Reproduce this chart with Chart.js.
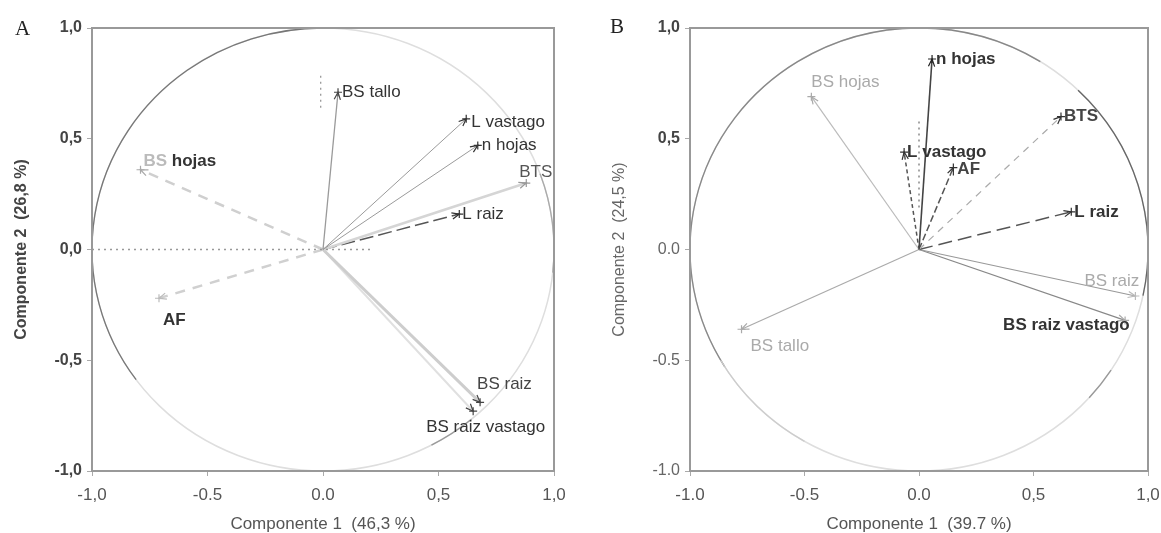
<!DOCTYPE html>
<html>
<head>
<meta charset="utf-8">
<script src="https://cdn.jsdelivr.net/npm/chart.js@4.4.1/dist/chart.umd.min.js"></script>
<style>
    body { margin: 0; background: #fff; width: 1161px; height: 533px; overflow: hidden; position: relative; }
    canvas { position: absolute; top: 0; }
    #chartA { left: 0; }
    #chartB { left: 580px; }
    .panel { position: absolute; font-family: "Liberation Serif", serif; font-size: 21px; color: #222; }
</style>
</head>
<body>
<canvas id="chartA" width="580" height="533"></canvas>
<canvas id="chartB" width="581" height="533"></canvas>
<div class="panel" style="left:15px; top:16px;">A</div>
<div class="panel" style="left:610px; top:14px;">B</div>
<script>
// ticks
const tickValues = [-1, -0.5, 0, 0.5, 1];
const xTickLabelsA = ['-1,0', '-0.5', '0.0', '0,5', '1,0'];
const yTickLabelsA = ['-1,0', '-0,5', '0,0', '0,5', '1,0'];
const xTickLabelsB = ['-1.0', '-0.5', '0.0', '0,5', '1,0'];
const yTickLabelsB = ['-1.0', '-0.5', '0.0', '0,5', '1,0'];

// panel A loadings
const variablesA = ['BS tallo', 'L vastago', 'n hojas', 'BTS', 'L raiz', 'BS hojas', 'AF', 'BS raiz', 'BS raiz vastago'];
const comp1A = [0.065, 0.62, 0.67, 0.88, 0.59, -0.79, -0.71, 0.68, 0.65];
const comp2A = [0.71, 0.59, 0.47, 0.30, 0.16, 0.36, -0.22, -0.69, -0.73];

// panel B loadings
const variablesB = ['n hojas', 'BS hojas', 'BTS', 'L vastago', 'AF', 'L raiz', 'BS tallo', 'BS raiz', 'BS raiz vastago'];
const comp1B = [0.057, -0.47, 0.62, -0.065, 0.15, 0.665, -0.775, 0.945, 0.90];
const comp2B = [0.86, 0.69, 0.60, 0.44, 0.37, 0.17, -0.36, -0.21, -0.32];

// dotted guide segments
const guidesA = [
    [{x: -1, y: 0}, {x: 0.22, y: 0}],
    [{x: -0.01, y: 0.64}, {x: -0.01, y: 0.79}]
];
const guidesB = [
    [{x: 0.0, y: 0.19}, {x: 0.0, y: 0.58}]
];

Chart.defaults.font.family = '"Liberation Sans", Arial, sans-serif';

const styleA = [
    {line: '#9a9a9a', width: 1.3, dash: [], mark: '#444', dx: 4, dy: 0, color: '#333', bold: false},
    {line: '#9a9a9a', width: 1, dash: [], mark: '#333', dx: 5, dy: 3, color: '#333', bold: false},
    {line: '#9a9a9a', width: 1, dash: [], mark: '#333', dx: 4, dy: 0, color: '#333', bold: false},
    {line: '#d5d5d5', width: 2.5, dash: [], mark: '#999', dx: -7, dy: -11, color: '#555', bold: false},
    {line: '#555', width: 1.5, dash: [14, 5], mark: '#333', dx: 3, dy: 0, color: '#333', bold: false},
    {line: '#cfcfcf', width: 2.5, dash: [10, 8], mark: '#aaa', dx: 3, dy: -8, color: '#333', bold: true, dim: 'BS '},
    {line: '#d0d0d0', width: 2.5, dash: [10, 8], mark: '#bbb', dx: 4, dy: 22, color: '#333', bold: true},
    {line: '#cdcdcd', width: 3, dash: [], mark: '#444', dx: -3, dy: -18, color: '#444', bold: false},
    {line: '#e0e0e0', width: 2, dash: [], mark: '#444', dx: -47, dy: 16, color: '#333', bold: false}
];

const styleB = [
    {line: '#444', width: 1.6, dash: [], mark: '#222', dx: 4, dy: 0, color: '#333', bold: true},
    {line: '#bbb', width: 1.2, dash: [], mark: '#aaa', dx: 0, dy: -14, color: '#aaa', bold: false},
    {line: '#aaa', width: 1.2, dash: [7, 6], mark: '#333', dx: 3, dy: 0, color: '#444', bold: true},
    {line: '#555', width: 1.5, dash: [4, 3], mark: '#333', dx: 3, dy: 0, color: '#333', bold: true},
    {line: '#555', width: 1.5, dash: [7, 3], mark: '#333', dx: 4, dy: 2, color: '#444', bold: true},
    {line: '#555', width: 1.5, dash: [14, 6], mark: '#333', dx: 3, dy: 0, color: '#333', bold: true},
    {line: '#aaa', width: 1.2, dash: [], mark: '#aaa', dx: 9, dy: 17, color: '#aaa', bold: false},
    {line: '#999', width: 1.2, dash: [], mark: '#bbb', dx: -51, dy: -15, color: '#aaa', bold: false},
    {line: '#888', width: 1.2, dash: [], mark: '#aaa', dx: -122, dy: 5, color: '#333', bold: true}
];

function vectorSets(names, xs, ys, styles) {
    return names.map((name, i) => ({
        label: name,
        data: [{x: 0, y: 0}, {x: xs[i], y: ys[i]}],
        showLine: true,
        borderColor: styles[i].line,
        borderWidth: styles[i].width,
        borderDash: styles[i].dash,
        pointRadius: [0, 4],
        pointStyle: 'cross',
        pointBorderColor: styles[i].mark,
        pointBorderWidth: 1.2,
        vector: styles[i]
    }));
}

function guideSets(guides, color) {
    return guides.map(seg => ({
        data: seg,
        showLine: true,
        borderColor: color,
        borderWidth: 1.3,
        borderDash: [2, 4],
        pointRadius: 0
    }));
}

// unit circle drawn through the scales
const circlePlugin = {
    id: 'circle',
    beforeDatasetsDraw(chart, args, opts) {
        const {ctx, scales: {x, y}} = chart;
        const cx = x.getPixelForValue(0), cy = y.getPixelForValue(0);
        const rx = x.getPixelForValue(1) - cx, ry = cy - y.getPixelForValue(1);
        ctx.save();
        ctx.lineWidth = 1.5;
        ctx.strokeStyle = opts.base;
        ctx.beginPath();
        ctx.ellipse(cx, cy, rx, ry, 0, 0, Math.PI * 2);
        ctx.stroke();
        (opts.arcs || []).forEach(a => {
            ctx.strokeStyle = a.color;
            ctx.lineWidth = a.width || 1.3;
            ctx.beginPath();
            ctx.ellipse(cx, cy, rx, ry, 0, -a.to * Math.PI / 180, -a.from * Math.PI / 180);
            ctx.stroke();
        });
        ctx.restore();
    }
};

const vectorPlugin = {
    id: 'vectors',
    afterDatasetsDraw(chart, args, opts) {
        const {ctx, chartArea} = chart;
        ctx.save();
        if (opts.clip) {
            ctx.beginPath();
            ctx.rect(chartArea.left, chartArea.top, chartArea.right - chartArea.left, chartArea.bottom - chartArea.top);
            ctx.clip();
        }
        chart.data.datasets.forEach((ds, i) => {
            if (!ds.vector) return;
            const s = ds.vector;
            const pts = chart.getDatasetMeta(i).data;
            const p0 = pts[0], p1 = pts[1];
            const ang = Math.atan2(p1.y - p0.y, p1.x - p0.x);
            // arrow head
            ctx.strokeStyle = s.mark;
            ctx.lineWidth = 1.2;
            ctx.setLineDash([]);
            ctx.beginPath();
            ctx.moveTo(p1.x - 8 * Math.cos(ang - 0.4), p1.y - 8 * Math.sin(ang - 0.4));
            ctx.lineTo(p1.x, p1.y);
            ctx.lineTo(p1.x - 8 * Math.cos(ang + 0.4), p1.y - 8 * Math.sin(ang + 0.4));
            ctx.stroke();
            // label
            ctx.font = (s.bold ? 'bold ' : '') + '17px "Liberation Sans", Arial, sans-serif';
            ctx.textBaseline = 'middle';
            ctx.textAlign = 'left';
            let tx = p1.x + s.dx;
            const ty = p1.y + s.dy;
            let text = ds.label;
            if (s.dim && text.startsWith(s.dim)) {
                ctx.fillStyle = '#bbb';
                ctx.fillText(s.dim, tx, ty);
                tx += ctx.measureText(s.dim).width;
                text = text.slice(s.dim.length);
            }
            ctx.fillStyle = s.color;
            ctx.fillText(text, tx, ty);
        });
        ctx.restore();
    }
};

const framePlugin = {
    id: 'frame',
    afterDraw(chart) {
        const {ctx, chartArea: a} = chart;
        ctx.save();
        ctx.strokeStyle = '#999';
        ctx.lineWidth = 2;
        ctx.strokeRect(a.left, a.top, a.right - a.left, a.bottom - a.top);
        ctx.restore();
    }
};

function axisScales(xLabels, yLabels, xTitle, yTitle, yTitleBold, yTitleColor, yTickFont, yWidth) {
    return {
        x: {
            type: 'linear', min: -1, max: 1,
            afterBuildTicks: s => { s.ticks = tickValues.map(v => ({value: v})); },
            afterFit: s => { s.height = 62; s.paddingLeft = 0; s.paddingRight = 0; },
            ticks: {
                callback: (v, i) => xLabels[i],
                color: '#555', font: {size: 17}, padding: 9,
                maxRotation: 0, autoSkip: false
            },
            grid: {drawOnChartArea: false, tickLength: 5, color: '#aaa'},
            border: {color: '#999', width: 2},
            title: {display: true, text: xTitle, color: '#555', font: {size: 17, lineHeight: 1}, padding: 0}
        },
        y: {
            type: 'linear', min: -1, max: 1,
            afterBuildTicks: s => { s.ticks = tickValues.map(v => ({value: v})); },
            afterFit: s => { s.width = yWidth; s.paddingTop = 0; s.paddingBottom = 0; },
            ticks: {
                callback: (v, i) => yLabels[i],
                color: ctx => yTickFont(ctx.index).color,
                font: ctx => ({size: 16, weight: yTickFont(ctx.index).weight}),
                padding: 5, autoSkip: false
            },
            grid: {drawOnChartArea: false, tickLength: 5, color: '#aaa'},
            border: {color: '#999', width: 2},
            title: {
                display: true, text: yTitle, color: yTitleColor,
                font: {size: 16, weight: yTitleBold ? 'bold' : 'normal'}, padding: {top: 4, bottom: 0}
            }
        }
    };
}

function makeChart(id, datasets, scales, padding, circle, clip) {
    return new Chart(document.getElementById(id), {
        type: 'scatter',
        data: {datasets: datasets},
        options: {
            responsive: false,
            animation: false,
            devicePixelRatio: 1,
            layout: {padding: padding},
            scales: scales,
            plugins: {
                legend: {display: false},
                tooltip: {enabled: false},
                circle: circle,
                vectors: {clip: clip}
            }
        },
        plugins: [circlePlugin, vectorPlugin, framePlugin]
    });
}

window.onload = function() {
    try {
        makeChart('chartA',
            guideSets(guidesA, '#999').concat(vectorSets(variablesA, comp1A, comp2A, styleA)),
            axisScales(xTickLabelsA, yTickLabelsA, 'Componente 1  (46,3 %)', 'Componente 2  (26,8 %)', true, '#444',
                i => ({weight: 'bold', color: '#444'}), 84),
            {left: 8, right: 26, top: 28, bottom: 0},
            {base: '#dedede', arcs: [
                {from: 90, to: 216, color: '#777'},
                {from: -6, to: 20, color: '#aaa'},
                {from: -62, to: -50, color: '#999'}
            ]},
            true);

        makeChart('chartB',
            guideSets(guidesB, '#777').concat(vectorSets(variablesB, comp1B, comp2B, styleB)),
            axisScales(xTickLabelsB, yTickLabelsB, 'Componente 1  (39.7 %)', 'Componente 2  (24,5 %)', false, '#666',
                i => (i >= 3 ? {weight: 'bold', color: '#444'} : {weight: 'normal', color: '#666'}), 84),
            {left: 26, right: 13, top: 28, bottom: 0},
            {base: '#dedede', arcs: [
                {from: 58, to: 212, color: '#888'},
                {from: -12, to: 46, color: '#666'},
                {from: -42, to: -33, color: '#999'},
                {from: -150, to: -120, color: '#ccc'}
            ]},
            false);
    } catch (error) {
        console.error('Error initializing charts:', error);
    }
};
</script>
</body>
</html>
